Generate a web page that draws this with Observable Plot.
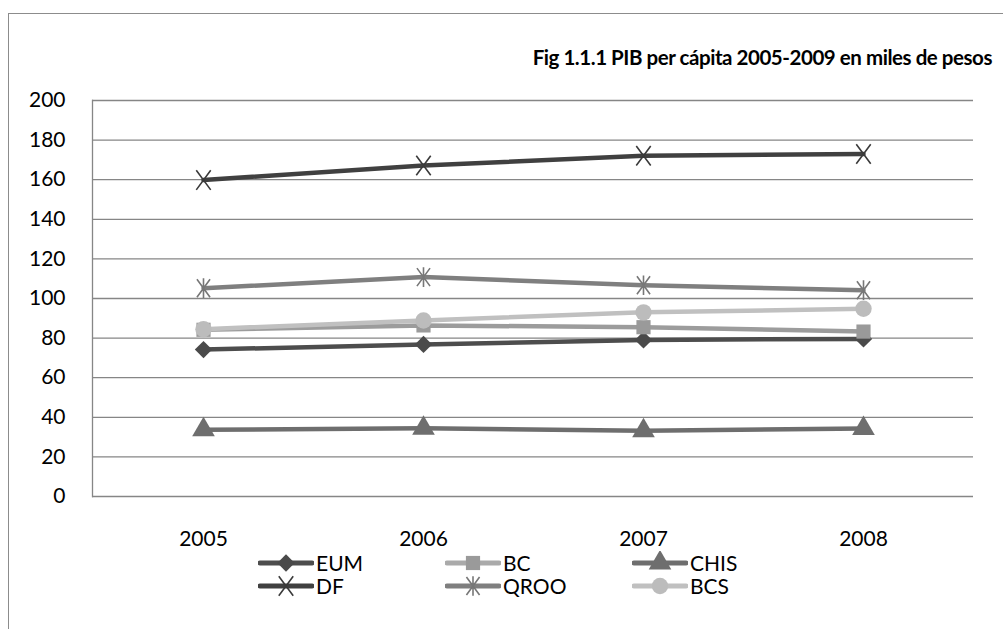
<!DOCTYPE html>
<html>
<head>
<meta charset="utf-8">
<script src="https://cdn.jsdelivr.net/npm/d3@7"></script>
<script src="https://cdn.jsdelivr.net/npm/@observablehq/plot@0.6"></script>
<style>
  html, body { margin: 0; padding: 0; background: #fff; }
  #wrap { position: relative; width: 1003px; height: 629px; overflow: hidden; font-family: Lato, "Open Sans", sans-serif; }
  #border { position: absolute; left: 8px; top: 13px; width: 1010px; height: 640px; border: 1.5px solid #8c8c8c; box-sizing: border-box; }
  #title { position: absolute; right: 11px; top: 45px; font-size: 20.5px; letter-spacing: -0.45px; font-weight: bold; color: #000; white-space: nowrap; }
  #chart { position: absolute; left: 0; top: 0; }
  .leg { position: absolute; display: flex; align-items: center; font-size: 21px; color: #000; }
  .leg svg { display: block; }
</style>
</head>
<body>
<div id="wrap">
  <div id="border"></div>
  <div id="chart"></div>
  <div id="title"></div>
  <div id="legend"></div>
</div>
<script>
// ---- data ----
const titleText = "Fig 1.1.1 PIB per cápita 2005-2009 en miles de pesos";
const years = ["2005", "2006", "2007", "2008"];
const seriesNames = ["EUM", "BC", "CHIS", "DF", "QROO", "BCS"];
const EUM  = [74.2, 76.8, 79.1, 79.6];
const BC   = [84.2, 86.4, 85.5, 83.3];
const CHIS = [33.7, 34.5, 33.2, 34.3];
const DF   = [159.8, 167.2, 172.1, 173.0];
const QROO = [105.2, 110.8, 106.7, 104.2];
const BCS  = [84.5, 88.9, 93.0, 94.8];
const yTicks = [0, 20, 40, 60, 80, 100, 120, 140, 160, 180, 200];

// ---- styles ----
const symX = { draw(ctx, size) { const r = Math.sqrt(size / Math.PI); ctx.moveTo(-r * 0.85, -r * 1.15); ctx.lineTo(r * 0.85, r * 1.15); ctx.moveTo(r * 0.85, -r * 1.15); ctx.lineTo(-r * 0.85, r * 1.15); } };
const symStar = { draw(ctx, size) { const r = Math.sqrt(size / Math.PI); ctx.moveTo(-r * 0.8, -r * 1.1); ctx.lineTo(r * 0.8, r * 1.1); ctx.moveTo(r * 0.8, -r * 1.1); ctx.lineTo(-r * 0.8, r * 1.1); ctx.moveTo(0, -r * 1.2); ctx.lineTo(0, r * 1.2); } };
const styles = {
  EUM:  { line: "#4d4d4d", mark: "#4a4a4a", symbol: d3.symbolDiamond2, r: 7.8, filled: true },
  BC:   { line: "#9c9c9c", mark: "#9a9a9a", legLine: "#aaaaaa", symbol: d3.symbolSquare, r: 8, filled: true },
  CHIS: { line: "#6e6e6e", mark: "#6e6e6e", symbol: d3.symbolTriangle, r: 8.4, filled: true },
  DF:   { line: "#404040", mark: "#3a3a3a", symbol: symX, r: 8.5, filled: false },
  QROO: { line: "#7f7f7f", mark: "#777777", symbol: symStar, r: 8.2, filled: false },
  BCS:  { line: "#c0c0c0", mark: "#bcbcbc", symbol: "circle", r: 8.2, filled: true }
};
const values = { EUM, BC, CHIS, DF, QROO, BCS };

const rows = seriesNames.flatMap(s => years.map((yr, i) => ({ series: s, year: yr, value: values[s][i] })));

const marks = [
  Plot.gridY(yTicks, { stroke: "#868686", strokeOpacity: 1, strokeWidth: 1.3 }),
  Plot.frame({ anchor: "left", stroke: "#868686", strokeWidth: 1.3 }),
  Plot.axisY(yTicks, { tickSize: 0, tickPadding: 27, fontSize: 21, label: null }),
  Plot.axisX({ tickSize: 0, tickPadding: 35, fontSize: 21, label: null })
];
for (const s of seriesNames) {
  const st = styles[s];
  const d = rows.filter(r => r.series === s);
  marks.push(Plot.line(d, { x: "year", y: "value", stroke: st.line, strokeWidth: 4.5, strokeLinejoin: "round" }));
  marks.push(Plot.dot(d, st.filled
    ? { x: "year", y: "value", symbol: () => st.symbol, r: st.r, fill: st.mark, stroke: "none" }
    : { x: "year", y: "value", symbol: () => st.symbol, r: st.r, fill: "none", stroke: st.mark, strokeWidth: 1.6 }));
}

const chart = Plot.plot({
  width: 1003,
  height: 629,
  marginLeft: 92,
  marginRight: 30,
  marginTop: 100,
  marginBottom: 133,
  style: { fontFamily: "Lato, 'Open Sans', sans-serif", color: "#000", background: "transparent", overflow: "visible" },
  x: { type: "point", domain: years, padding: 0.5 },
  y: { domain: [0, 200] },
  symbol: { type: "identity" },
  marks
});
document.getElementById("chart").appendChild(chart);
document.getElementById("title").textContent = titleText;

// ---- legend ----
const legend = document.getElementById("legend");
const legPos = [[258, 562], [445, 562], [632, 562], [258, 585], [445, 585], [632, 585]];
seriesNames.forEach((s, i) => {
  const st = styles[s];
  const div = document.createElement("div");
  div.className = "leg";
  div.style.left = legPos[i][0] + "px";
  div.style.top = (legPos[i][1] - 12) + "px";
  const w = 56, h = 24;
  const svg = d3.create("svg").attr("width", w).attr("height", h);
  svg.append("line").attr("x1", 2).attr("x2", w - 2).attr("y1", h / 2).attr("y2", h / 2)
    .attr("stroke", st.legLine || st.line).attr("stroke-width", 5).attr("stroke-linecap", "round");
  const sym = st.symbol === "circle" ? d3.symbolCircle : st.symbol;
  const p = svg.append("path").attr("transform", `translate(${w / 2},${h / 2})`)
    .attr("d", d3.symbol(sym, Math.PI * st.r * st.r)());
  if (st.filled) p.attr("fill", st.mark); else p.attr("fill", "none").attr("stroke", st.mark).attr("stroke-width", 1.6);
  div.appendChild(svg.node());
  const t = document.createElement("span");
  t.textContent = s;
  t.style.marginLeft = "2px";
  div.appendChild(t);
  legend.appendChild(div);
});
</script>
</body>
</html>
